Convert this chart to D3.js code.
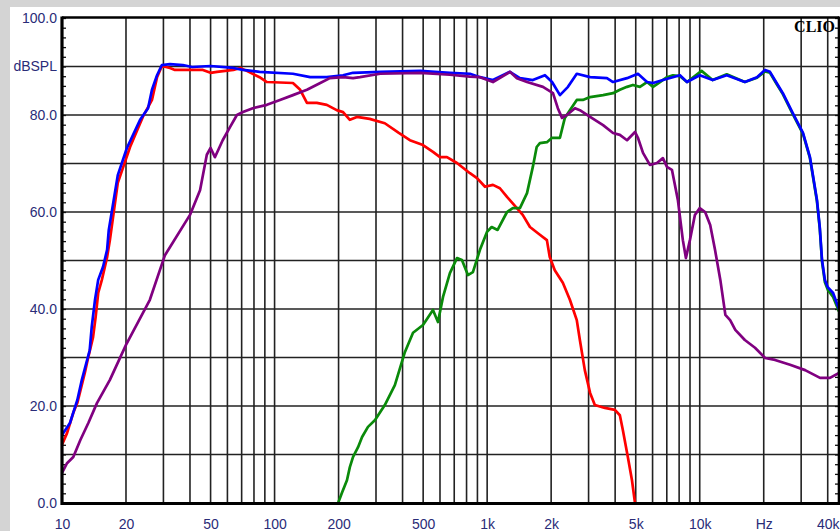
<!DOCTYPE html>
<html>
<head>
<meta charset="utf-8">
<script src="https://cdn.jsdelivr.net/npm/d3@7"></script>
<style>
	body{margin:0;padding:0;background:#d4d4d4;}
	#chart{position:absolute;left:0;top:0;}
</style>
</head>
<body>
<div id="chart"></div>
<script>
// frequency (Hz) and level (dB SPL)
var blueFreq=[10,10.9,11.8,12.4,13.5,13.8,14.3,14.8,15.6,16.3,16.6,18.3,20.2,23.3,25.4,26.5,28,29.5,32.2,37,41,50,64,71,85,122,147,176,210,234,314,485,667,830,925,1065,1280,1426,1640,1870,2020,2200,2400,2640,3050,3660,3910,4550,5120,5650,6030,6710,8070,8710,10000,11500,13400,16300,18600,20300,21400,23000,24600,27400,30600,33000,35600,36700,37600,38800,40000,42400,45200];
var blueDb=[14,16.5,21.2,25.4,31.5,36.3,41.9,46,48.7,52.2,56.3,67.6,73.2,79,81.4,85.2,88.2,90.3,90.5,90.3,89.9,90.1,89.7,89.3,88.9,88.5,87.8,87.8,88.2,88.7,88.9,89.1,88.7,88.5,87.8,87.2,88.9,87.6,87.2,88.2,86.8,84.1,85.8,88.5,87.8,87.6,86.8,87.6,88.5,86.8,86.6,87.2,88.2,86.8,88.2,87.2,88.2,86.8,87.8,89.3,88.9,86.6,84.5,80.4,76.3,71.3,62.5,56.9,50.1,46,44.5,43.3,40];

var redFreq=[10,10.56,11.3,11.8,12.8,13.2,14,14.4,14.8,15.4,16.3,16.8,18.3,20.9,24,26.5,28,29.5,32.2,34,41,46,50,53.6,64,69,74,85,92,122,132,142,158,176,196,210,226,244,280,330,384,433,499,556,600,647,721,830,896,977,1065,1148,1240,1380,1470,1590,1770,1910,1970,2080,2270,2450,2640,2730,2880,3050,3210,3580,3990,4210,4350,4590,4800,4960];
var redDb=[12,14.4,18.6,20.6,26.8,29.5,34.2,38.4,43.3,46,50.7,54.2,66,73.4,79.6,83.1,87.8,90.1,89.7,89.3,89.3,89.3,88.7,88.9,89.3,89.7,89.1,87.8,86.8,86.6,85.2,82.5,82.5,82.1,81,80.6,79,79.6,79.2,78.3,76.3,74.8,73.8,72.4,71.3,71.3,70.1,68,67,65.2,65.6,64.9,63.1,60.8,59.4,56.9,55.3,54.2,50.7,48,45.4,41.9,37.7,33.6,27.4,22.7,20.2,19.6,19.2,18.1,15,9.5,4.7,0];

var purpleFreq=[10,10.56,11.3,12.2,13.3,14.6,16.8,20,25.9,30.5,40,44.6,48,50,52.4,57,61.7,66.5,71,79,92,106,122,142,164,182,210,234,252,314,485,667,830,925,1065,1280,1380,1540,1830,2040,2150,2250,2370,2590,2730,3050,3510,3910,4210,4550,4960,5120,5410,5830,6290,6710,7010,7400,7890,8330,8610,8990,9490,10000,10600,11200,11800,12500,13200,13900,14700,16300,18200,20300,22600,26600,31300,36800,41000,45200];
var purpleDb=[6.2,8.2,9.5,13,16.5,20.6,25.4,32.6,41.9,51.1,59.4,64.5,71.8,73.2,71.3,74.8,77.5,80,80.6,81.4,82.1,83.1,84.1,85.2,86.6,87.6,87.8,87.6,87.8,88.5,88.7,88.3,87.9,87.8,86.8,88.9,87.6,86.8,85.8,84.5,81.4,79.4,80,81.4,81,79.6,77.9,76.3,75.9,74.8,76.5,75.3,72.2,69.7,70.1,71.1,69.3,68.7,62.5,54.2,50.5,54.2,59.4,60.8,60,57.3,52.2,46,38.8,37.7,35.7,33.6,32,29.9,29.5,28.5,27.4,25.8,25.8,26.8];

var greenFreq=[199,207.5,219,226,234,247,258,275,297,330,368,410,448,499,556,587,620,668,721,761,812,857,925,998,1050,1120,1240,1320,1426,1540,1640,1710,1770,1910,2020,2200,2320,2450,2640,2820,3050,3510,3910,4210,4550,4850,5230,5650,6030,6500,7010,7480,8070,8710,10200,11500,13400,16300,18600,20300,21400,23000,24600,27400,30600,33000,35600,36700,37600,38800,40000,42400,45200];
var greenDb=[0,2.1,4.7,7.4,9.5,11.5,13.6,15.7,17.1,20.2,24.3,31.1,35.1,36.7,39.8,37.3,42.5,47.4,50.5,50.1,47,47.6,52.2,55.9,56.9,56.3,60,60.8,60.8,63.9,69.3,73.4,74.2,74.4,75.3,75.3,79.4,81,83.1,83.1,83.7,84.1,84.5,85.2,85.8,86.2,85.8,86.8,85.8,86.8,87.8,88.2,88,86.8,89.1,87.2,88.4,86.8,87.7,89,88.7,86.4,84.3,80.2,76.1,71.1,62.2,56.6,49.8,45.5,44,42.5,39.5];

var xTickValues=[10,20,50,100,200,500,1000,2000,5000,10000,20000,40000];
var xTickLabels=["10","20","50","100","200","500","1k","2k","5k","10k","Hz","40k"];
var yTickValues=[0,20,40,60,80,90,100];
var yTickLabels=["0.0","20.0","40.0","60.0","80.0","dBSPL","100.0"];

var width=840,height=531;
var plotLeft=62,plotRight=839,plotTop=18,plotBottom=503;
var labelColor="#2a2c78";

var svg=d3.select("#chart").append("svg").attr("width",width).attr("height",height);

// white panel on the gray window
svg.append("rect").attr("x",10).attr("y",7).attr("width",width).attr("height",height).style("fill","white");

var x=d3.scaleLog().domain([10,45200]).range([plotLeft,plotRight]);
var y=d3.scaleLinear().domain([0,100]).range([plotBottom,plotTop]);

// grid: 1..9 per decade up to 10k, then 20k,30k,40k
var gridFreq=[];
[10,100,1000].forEach(function(dec){
	for(var k=2;k<=10;k++){gridFreq.push(dec*k);}
});
gridFreq.push(20000,30000,40000);

svg.append("g").selectAll("line").data(gridFreq).enter().append("line")
	.attr("x1",function(d){return x(d);}).attr("x2",function(d){return x(d);})
	.attr("y1",plotTop).attr("y2",plotBottom)
	.attr("stroke","#222").attr("stroke-width",1.6);

svg.append("g").selectAll("line").data(d3.range(10,100,10)).enter().append("line")
	.attr("x1",plotLeft).attr("x2",plotRight)
	.attr("y1",function(d){return y(d);}).attr("y2",function(d){return y(d);})
	.attr("stroke","#222").attr("stroke-width",1.6);

// minor ticks, inside the frame on both sides
var minor=d3.range(0,101,2);
svg.append("g").attr("transform","translate("+plotLeft+",0)")
	.call(d3.axisRight(y).tickValues(minor).tickSize(4).tickFormat(""))
	.call(function(g){g.select(".domain").remove();g.selectAll("line").attr("stroke","#111").attr("stroke-width",1.3);});
svg.append("g").attr("transform","translate("+plotRight+",0)")
	.call(d3.axisLeft(y).tickValues(minor).tickSize(4).tickFormat(""))
	.call(function(g){g.select(".domain").remove();g.selectAll("line").attr("stroke","#111").attr("stroke-width",1.3);});

// curves
var line=d3.line()
	.x(function(d){return x(d[0]);})
	.y(function(d){return y(d[1]);});

function series(freq,db,color){
	var pts=freq.map(function(f,i){return [f,db[i]];});
	svg.append("path").datum(pts)
		.attr("d",line)
		.attr("fill","none")
		.attr("stroke",color)
		.attr("stroke-width",2.7)
		.attr("stroke-linejoin","round");
}
series(redFreq,redDb,"#ff0000");
series(greenFreq,greenDb,"#0a8a0a");
series(blueFreq,blueDb,"#0000ff");
series(purpleFreq,purpleDb,"#800080");

// frame
svg.append("line").attr("x1",plotLeft).attr("x2",plotRight).attr("y1",plotTop-0.5).attr("y2",plotTop-0.5).attr("stroke","black").attr("stroke-width",2.6);
svg.append("line").attr("x1",plotLeft).attr("x2",plotRight+2).attr("y1",plotBottom+0.5).attr("y2",plotBottom+0.5).attr("stroke","black").attr("stroke-width",2.8);
svg.append("line").attr("x1",plotLeft).attr("x2",plotLeft).attr("y1",plotTop-1.5).attr("y2",plotBottom+2).attr("stroke","black").attr("stroke-width",3.2);
svg.append("line").attr("x1",plotRight).attr("x2",plotRight).attr("y1",plotTop-1.5).attr("y2",plotBottom+2).attr("stroke","black").attr("stroke-width",2.6);

// axis labels
var yAxis=svg.append("g").attr("transform","translate("+plotLeft+",0)")
	.call(d3.axisLeft(y).tickValues(yTickValues).tickSize(0).tickPadding(5)
		.tickFormat(function(d,i){return yTickLabels[i];}));
yAxis.select(".domain").remove();
yAxis.selectAll("text").attr("font-family","Arial, 'Liberation Sans', sans-serif").attr("font-size",14).attr("fill",labelColor);

var xAxis=svg.append("g").attr("transform","translate(0,"+plotBottom+")")
	.call(d3.axisBottom(x).tickValues(xTickValues).tickSize(0).tickPadding(16)
		.tickFormat(function(d,i){return xTickLabels[i];}));
xAxis.select(".domain").remove();
xAxis.selectAll("text").attr("font-family","Arial, 'Liberation Sans', sans-serif").attr("font-size",14).attr("fill",labelColor);

svg.append("text").attr("x",835).attr("y",32).attr("text-anchor","end")
	.attr("font-family","'Liberation Serif', 'DejaVu Serif', serif").attr("font-weight","bold").attr("font-size",16)
	.text("CLIO");
</script>
</body>
</html>
